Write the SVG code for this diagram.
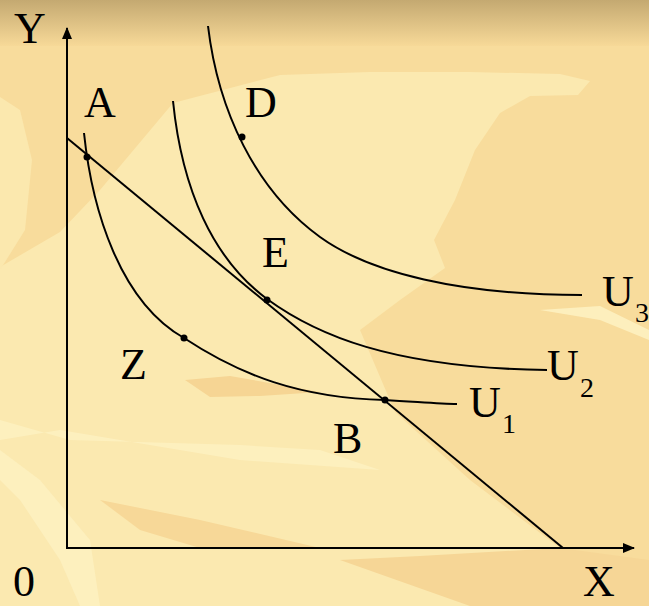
<svg xmlns="http://www.w3.org/2000/svg" width="649" height="606" viewBox="0 0 649 606">
<defs>
<linearGradient id="top" x1="0" y1="0" x2="0" y2="1">
<stop offset="0" stop-color="#c4a971"/>
<stop offset="1" stop-color="#f7d998"/>
</linearGradient>
<marker id="arr" viewBox="0 0 12 10" refX="11" refY="5" markerWidth="12" markerHeight="10" markerUnits="userSpaceOnUse" orient="auto">
<path d="M0,0 L12,5 L0,10 Z" fill="#000"/>
</marker>
<style>
.ln{fill:none;stroke:#000;stroke-width:2}
.ax{fill:none;stroke:#000;stroke-width:2}
.dot{fill:#000}
.lb{font-family:"Liberation Serif","Times New Roman",serif;font-size:44px;fill:#000}
.sb{font-family:"Liberation Serif","Times New Roman",serif;font-size:28px;fill:#000}
</style>
</defs>
<g id="background">
<rect x="0" y="0" width="649" height="606" fill="#f8dc9c"/>
<rect x="0" y="0" width="649" height="46" fill="url(#top)"/>
<polygon fill="#fbe9b0" points="0,267 60,232 100,190 173,103 280,75 370,72 470,72 560,74 590,81 578,95 530,96 500,113 475,150 455,200 434,240 445,268 400,300 360,330 395,412 470,480 560,548 600,606 0,606"/>
<polygon fill="#fbe8ae" points="0,97 20,110 32,160 25,230 0,270"/>
<polygon fill="#fdf0be" points="0,420 70,440 240,445 320,450 380,470 240,460 60,430 0,440"/>
<polygon fill="#fdf0be" points="0,450 40,480 90,540 100,606 80,606 60,560 20,500 0,480"/>
<polygon fill="#f6d594" points="185,380 230,376 320,392 260,396 210,397"/>
<polygon fill="#fdefbd" points="540,310 600,306 649,330 649,340 600,320"/>
<polygon fill="#f7d898" points="100,500 200,520 320,548 200,548 140,530"/>
<polygon fill="#f6d696" points="340,560 420,556 560,548 649,560 649,606 470,606"/>
</g>
<g id="connectors">
<line class="ax" x1="67" y1="549" x2="67" y2="28" marker-end="url(#arr)"/>
<line class="ax" x1="66" y1="548" x2="634" y2="548" marker-end="url(#arr)"/>
<line id="budget" class="ln" x1="67" y1="138" x2="563" y2="548"/>
<path id="U1" class="ln" d="M84,133 C92,210 120,302 184,338 C240,375 300,398 385,400 C420,402 440,404 457,404"/>
<path id="U2" class="ln" d="M173,101 C182,190 213,259 267,299 C315,334 390,368 547,370"/>
<path id="U3" class="ln" d="M208,26 C218,110 255,190 320,237 C370,273 460,295 582,295"/>
</g>
<g id="point-A"><circle class="dot" cx="87" cy="157" r="3.5"/><text class="lb" x="84" y="117">A</text></g>
<g id="point-D"><circle class="dot" cx="242" cy="137" r="3.5"/><text class="lb" x="245" y="117">D</text></g>
<g id="point-E"><circle class="dot" cx="267" cy="300" r="3.5"/><text class="lb" x="262" y="267">E</text></g>
<g id="point-Z"><circle class="dot" cx="184" cy="338" r="3.5"/><text class="lb" x="120" y="379">Z</text></g>
<g id="point-B"><circle class="dot" cx="385" cy="400" r="3.5"/><text class="lb" x="333" y="453">B</text></g>
<g id="label-U1"><text class="lb" x="469" y="417">U</text><text class="sb" x="502" y="433">1</text></g>
<g id="label-U2"><text class="lb" x="547" y="380">U</text><text class="sb" x="580" y="397">2</text></g>
<g id="label-U3"><text class="lb" x="602" y="306">U</text><text class="sb" x="635" y="322">3</text></g>
<g id="axis-labels">
<text class="lb" x="14" y="43">Y</text>
<text class="lb" x="583" y="596">X</text>
<text class="lb" x="13" y="596">0</text>
</g>
</svg>
